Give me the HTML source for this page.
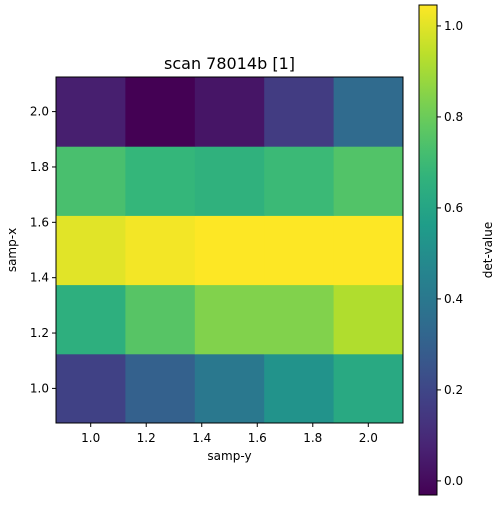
<!DOCTYPE html>
<html><head><meta charset="utf-8"><style>
body{margin:0;background:#fff;}
svg text{font-family:"DejaVu Sans","Liberation Sans",sans-serif;fill:#000;}
</style></head><body>
<svg id="chart" width="500" height="500">
</svg>
<script>
const xCats=[1.0,1.25,1.5,1.75,2.0];
const yCats=[1.0,1.25,1.5,1.75,2.0];
const row100=[0.18,0.30,0.40,0.52,0.62];
const row125=[0.65,0.76,0.84,0.84,0.92];
const row150=[1.00,1.03,1.05,1.05,1.05];
const row175=[0.73,0.68,0.66,0.70,0.75];
const row200=[0.06,-0.03,0.03,0.16,0.34];
const values=[row100,row125,row150,row175,row200];
const xTicks=[1.0,1.2,1.4,1.6,1.8,2.0];
const yTicks=[1.0,1.2,1.4,1.6,1.8,2.0];
const cTicks=[0.0,0.2,0.4,0.6,0.8,1.0];
const vmin=-0.031,vmax=1.046;

const NS="http://www.w3.org/2000/svg";
const svg=document.getElementById('chart');
function mk(t,a,p){const e=document.createElementNS(NS,t);for(const k in a)e.setAttribute(k,a[k]);(p||svg).appendChild(e);return e;}
const L=56,R=403,T=77,B=423;
const xs=v=>L+(v-0.875)/1.25*(R-L);
const ys=v=>B-(v-0.875)/1.25*(B-T);
const VS=[[68,1,84],[72,40,120],[62,73,137],[49,104,142],[38,130,142],[31,158,137],[53,183,121],[109,205,89],[180,222,44],[253,231,37]];
function viridis(t){t=Math.max(0,Math.min(1,t))*(VS.length-1);const i=Math.min(Math.floor(t),VS.length-2),f=t-i;const c=VS[i].map((v,k)=>Math.round(v+(VS[i+1][k]-v)*f));return `rgb(${c})`;}
const cnorm=v=>(v-vmin)/(vmax-vmin);

const title=mk('text',{x:(L+R)/2,y:69,'text-anchor':'middle','font-size':16});title.textContent='scan 78014b [1]';



yCats.forEach((yv,r)=>xCats.forEach((xv,c)=>{
  const x0=xs(xv-0.125),x1=xs(xv+0.125),y0=ys(yv+0.125),y1=ys(yv-0.125);
  const cell=mk('rect',{x:x0,y:y0,width:x1-x0+0.5,height:y1-y0+0.5,fill:viridis(cnorm(values[r][c]))});
  
  
}));
const frame=mk('rect',{x:L,y:T,width:R-L,height:B-T,fill:'none',stroke:'#000','stroke-width':1});



xTicks.forEach(v=>{const x=xs(v);mk('line',{x1:x,x2:x,y1:B,y2:B+4,stroke:'#000'});
  const t=mk('text',{x:x,y:B+19,'text-anchor':'middle','font-size':12});t.textContent=v.toFixed(1);
  
  });
yTicks.forEach(v=>{const y=ys(v);mk('line',{x1:L-4,x2:L,y1:y,y2:y,stroke:'#000'});
  const t=mk('text',{x:L-7,y:y+4,'text-anchor':'end','font-size':12});t.textContent=v.toFixed(1);
  
  });
const xt=mk('text',{x:(L+R)/2,y:460,'text-anchor':'middle','font-size':12});xt.textContent='samp-y';


const yt=mk('text',{x:0,y:0,'text-anchor':'middle','font-size':12,transform:`translate(16,${(T+B)/2}) rotate(-90)`});yt.textContent='samp-x';



const CL=419,CR=437,CT=5,CB=495;
const cy=v=>CB-(v-vmin)/(vmax-vmin)*(CB-CT);
const defs=mk('defs',{});const g=mk('linearGradient',{id:'vg',x1:0,y1:1,x2:0,y2:0},defs);
for(let i=0;i<=20;i++)mk('stop',{offset:i/20,'stop-color':viridis(i/20)},g);
const cb=mk('rect',{x:CL,y:CT,width:CR-CL,height:CB-CT,fill:'url(#vg)',stroke:'#000','stroke-width':1});


cTicks.forEach(v=>{const y=cy(v);mk('line',{x1:CR,x2:CR+4,y1:y,y2:y,stroke:'#000'});
  const t=mk('text',{x:CR+7,y:y+4,'font-size':12});t.textContent=v.toFixed(1);
  
  });
const ct=mk('text',{x:0,y:0,'text-anchor':'middle','font-size':12,transform:`translate(492,250) rotate(-90)`});ct.textContent='det-value';


</script>
</body></html>
